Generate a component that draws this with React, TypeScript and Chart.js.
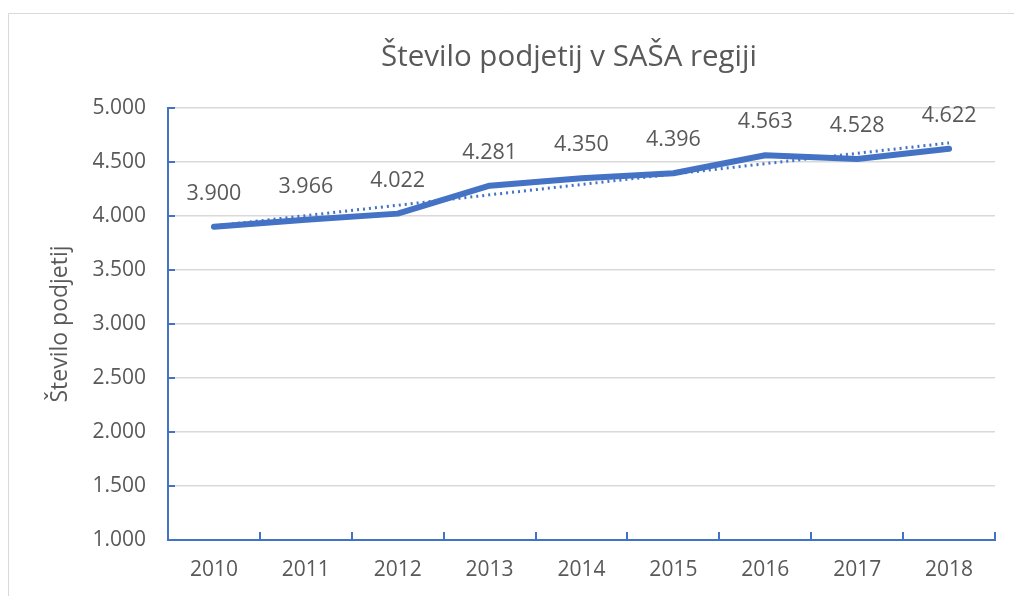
import React, { useEffect, useRef } from "react";
import { Chart, registerables } from "chart.js";

Chart.register(...registerables);

const years = ["2010", "2011", "2012", "2013", "2014", "2015", "2016", "2017", "2018"];
const companies = [3900, 3966, 4022, 4281, 4350, 4396, 4563, 4528, 4622];
const chartTitle = "Število podjetij v SAŠA regiji";
const yAxisTitle = "Število podjetij";
const yMin = 1000;
const yMax = 5000;
const yStep = 500;

const BLUE = "#4472C4";
const TEXT = "#595959";
const FONT = "'Open Sans', sans-serif";

function fmt(v: number): string {
  return Math.round(v).toString().replace(/\B(?=(\d{3})+(?!\d))/g, ".");
}

// Linear trendline (least squares), as Excel computes it from the series
function trend(values: number[]): number[] {
  const n = values.length;
  const xs = values.map((_, i) => i + 1);
  const mx = xs.reduce((a, b) => a + b, 0) / n;
  const my = values.reduce((a, b) => a + b, 0) / n;
  let num = 0;
  let den = 0;
  for (let i = 0; i < n; i++) {
    num += (xs[i] - mx) * (values[i] - my);
    den += (xs[i] - mx) * (xs[i] - mx);
  }
  const b = num / den;
  const a = my - b * mx;
  return xs.map((x) => a + b * x);
}

const decorPlugin = {
  id: "decor",
  beforeDraw(chart: any) {
    const ctx = chart.ctx;
    ctx.save();
    ctx.strokeStyle = "#d9d9d9";
    ctx.lineWidth = 1;
    ctx.beginPath();
    ctx.moveTo(8.5, chart.height + 10);
    ctx.lineTo(8.5, 13.5);
    ctx.lineTo(chart.width + 10, 13.5);
    ctx.stroke();
    ctx.fillStyle = TEXT;
    ctx.font = `29.5px ${FONT}`;
    ctx.textAlign = "center";
    ctx.textBaseline = "alphabetic";
    ctx.fillText(chartTitle, 569, 66);
    ctx.restore();
  },
  afterDraw(chart: any) {
    const ctx = chart.ctx;
    const { left, right, bottom } = chart.chartArea;
    const ys = chart.scales.y;
    ctx.save();
    ctx.strokeStyle = BLUE;
    ctx.lineWidth = 2;
    ctx.beginPath();
    ys.ticks.forEach((t: any) => {
      const y = Math.round(ys.getPixelForValue(t.value));
      ctx.moveTo(left, y);
      ctx.lineTo(left + 7, y);
    });
    const n = years.length;
    const w = (right - left) / n;
    for (let i = 1; i <= n; i++) {
      const x = Math.round(left + i * w);
      ctx.moveTo(x, bottom);
      ctx.lineTo(x, bottom - 8);
    }
    ctx.stroke();
    // data labels
    const meta = chart.getDatasetMeta(1);
    ctx.fillStyle = TEXT;
    ctx.font = `21.5px ${FONT}`;
    ctx.textAlign = "center";
    ctx.textBaseline = "middle";
    meta.data.forEach((pt: any, i: number) => {
      ctx.fillText(fmt(companies[i]), pt.x, pt.y - 33);
    });
    ctx.restore();
  },
};

export default function App() {
  const ref = useRef<HTMLCanvasElement | null>(null);
  useEffect(() => {
    if (!ref.current) return;
    const chart = new Chart(ref.current, {
      type: "line",
      data: {
        labels: years,
        datasets: [
          {
            label: "Trend",
            data: trend(companies),
            borderColor: BLUE,
            borderWidth: 3,
            borderDash: [2, 4],
            pointRadius: 0,
            fill: false,
            order: 2,
          },
          {
            label: yAxisTitle,
            data: companies,
            borderColor: BLUE,
            borderWidth: 6,
            pointRadius: 0,
            borderCapStyle: "round",
            borderJoinStyle: "round",
            fill: false,
            order: 1,
          },
        ],
      },
      options: {
        responsive: false,
        animation: false,
        layout: { padding: { top: 108, right: 19, left: 0, bottom: 0 } },
        plugins: {
          legend: { display: false },
          title: { display: false },
          tooltip: { enabled: false },
        },
        scales: {
          x: {
            offset: true,
            grid: { display: false, drawTicks: false, offset: true },
            border: { display: true, color: BLUE, width: 2 },
            ticks: {
              color: TEXT,
              font: { family: FONT, size: 21 },
              padding: 17,
              maxRotation: 0,
            },
            afterFit: (s: any) => {
              s.height = 56;
            },
          },
          y: {
            min: yMin,
            max: yMax,
            ticks: {
              stepSize: yStep,
              color: TEXT,
              font: { family: FONT, size: 21 },
              padding: 22,
              callback: (v: any) => fmt(Number(v)),
            },
            grid: { color: "#d9d9d9", lineWidth: 1.5, drawTicks: false },
            border: { display: true, color: BLUE, width: 2 },
            title: {
              display: true,
              text: yAxisTitle,
              color: TEXT,
              font: { family: FONT, size: 23 },
              padding: { top: 47, bottom: 0 },
            },
            afterFit: (s: any) => {
              s.width = 168;
            },
          },
        },
      },
      plugins: [decorPlugin],
    });
    return () => chart.destroy();
  }, []);
  return (
    <div style={{ position: "fixed", left: 0, top: 0, width: 1014, height: 596, background: "#fff" }}>
      <canvas ref={ref} width={1014} height={596} style={{ display: "block" }} />
    </div>
  );
}
